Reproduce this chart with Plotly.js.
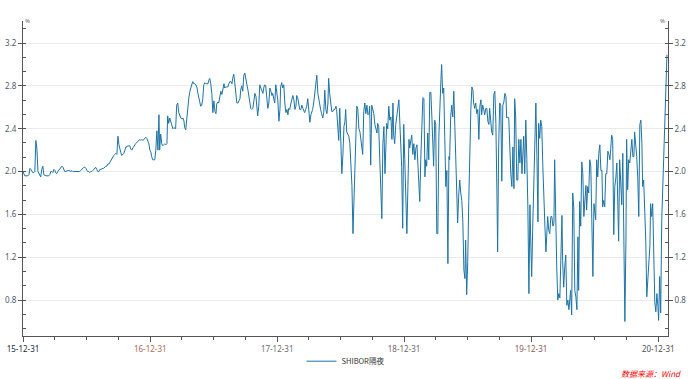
<!DOCTYPE html>
<html><head><meta charset="utf-8">
<script src="https://cdn.plot.ly/plotly-3.0.1.min.js"></script>
<style>html,body{margin:0;padding:0;background:#fff}#chart{width:692px;height:379px}</style>
</head><body><div id="chart"></div>
<script>
const seriesName = 'SHIBOR隔夜';
const firstDate = '2015-12-31';
const lastDate = '2021-01-25';

const rateA = [2.00,1.98,1.96,1.96,1.96,1.96,1.97,2.03,2.02,2.00,
1.99,1.99,2.00,2.29,2.21,2.00,1.98,1.96,1.95,2.02,
2.05,1.97,1.96,1.96,1.96,1.96,1.96,1.97,2.00,2.00,
1.99,2.02,2.01,1.99,1.98,2.00,2.01,2.02,2.04,2.05,
2.04,2.02,2.00,2.00,2.01,2.01,2.01,2.00,2.00,2.01,
2.00,2.00,2.00,2.00,2.00,2.00,2.00,2.00,2.01,2.02,
2.03,2.04,2.04,2.03,2.01,2.00,2.00,1.99,2.00,2.00,
2.01,2.02,2.03,2.04,2.02,2.00,2.00,2.02,2.02,2.03,
2.03,2.03,2.04,2.05,2.05,2.07,2.07,2.09,2.10,2.12,
2.13,2.15,2.16,2.17,2.16,2.33,2.25,2.21,2.18,2.15,
2.16,2.17,2.20,2.23,2.23,2.24,2.24,2.24,2.21,2.20,
2.22,2.23,2.25,2.26,2.27,2.28,2.29,2.30,2.29,2.30,
2.29,2.30,2.31,2.32,2.31,2.28,2.26];
const rateB = [2.20,2.18,2.14,2.11,2.11,2.11,2.20,2.38,2.20,2.53,
2.20,2.35,2.26,2.24,2.25,2.26,2.25,2.26,2.52,2.45,
2.50,2.47,2.42,2.40,2.41,2.40,2.40,2.62,2.64,2.55,
2.52,2.50,2.49,2.50,2.47,2.41,2.39,2.50,2.58,2.69,
2.75,2.79,2.82,2.84,2.82,2.82,2.81,2.79,2.73,2.67,
2.64,2.61,2.62,2.68,2.81,2.83,2.82,2.82,2.82,2.85,
2.87,2.82,2.73,2.55,2.66,2.56,2.54,2.63,2.65,2.64,
2.71,2.75,2.72,2.79,2.82,2.78,2.79,2.79,2.79,2.82,
2.84,2.84,2.82,2.87,2.91,2.83,2.73,2.64,2.64,2.66,
2.68,2.76,2.80,2.75,2.90,2.92,2.84,2.81,2.76,2.72,
2.66,2.59,2.58,2.59,2.66,2.73,2.70,2.59,2.52,2.61,
2.81,2.78,2.76,2.73,2.79,2.81,2.80,2.69,2.59,2.64,
2.78,2.75,2.71,2.73,2.68,2.64,2.81];
const rateC = [2.73,2.66,2.47,2.58,2.79,2.83,2.78,2.81,2.64,2.55,
2.58,2.53,2.59,2.58,2.63,2.69,2.71,2.67,2.58,2.61,
2.71,2.69,2.63,2.58,2.58,2.62,2.59,2.57,2.55,2.58,
2.61,2.68,2.55,2.46,2.53,2.56,2.58,2.64,2.73,2.78,
2.90,2.73,2.66,2.62,2.58,2.54,2.50,2.55,2.76,2.58,
2.54,2.64,2.87,2.73,2.62,2.56,2.56,2.58,2.58,2.61,
2.58,2.46,2.29,2.59,2.27,1.98,2.15,2.42,2.47,2.58,
2.37,2.35,2.33,2.26,2.03,1.87,1.42,1.64,2.11,2.42,
2.61,2.58,2.40,2.37,2.30,2.26,2.16,2.56,2.64,2.54,
2.62,2.53,2.54,2.61,2.06,2.62,2.58,2.54,2.44,2.38,
2.36,2.45,2.42,2.12,1.87,1.56,2.26,2.42,1.98,2.30,
2.45,2.40,2.61,2.48,2.51,2.30,2.64,2.34,2.26,2.44,
2.51,2.62,2.67,2.44,2.19,2.05,1.47];
const rateD = [2.44,2.11,1.58,1.42,1.86,2.30,2.22,2.28,2.34,2.16,
2.26,2.11,2.22,2.25,2.12,1.86,1.72,2.11,2.42,2.69,
2.68,1.95,2.11,2.05,2.36,2.11,2.74,2.74,2.50,2.20,
2.05,2.48,2.44,1.42,1.42,2.33,2.72,2.86,3.00,2.73,
2.78,2.42,1.86,2.01,1.14,2.14,2.11,2.51,2.62,2.51,
2.75,2.42,2.08,1.95,1.52,1.77,1.92,1.80,1.73,1.53,
1.08,1.00,1.36,0.85,1.16,1.72,2.23,2.58,2.79,2.76,
2.64,2.59,2.64,2.54,2.58,2.30,2.61,2.67,2.53,2.62,
2.58,2.53,2.59,2.59,2.47,2.44,2.59,2.47,2.37,2.34,
2.72,2.75,2.45,1.80,1.25,2.22,2.64,2.62,1.91,2.62,
2.65,2.73,2.70,2.50,2.51,2.50,2.17,1.97,1.86,2.23,
1.84,2.68,2.51,1.92,1.92,2.30,2.08,2.30,1.98,2.17,
2.33,1.98,2.48,2.11,1.67,0.86,1.69];
const rateE = [1.39,1.02,1.49,1.92,2.42,2.64,2.14,1.53,2.45,2.31,
2.48,2.42,2.05,1.63,1.49,1.25,1.42,1.58,1.45,1.42,
1.58,1.58,1.49,1.52,2.11,1.49,1.11,0.80,0.86,0.82,
1.17,1.59,1.17,0.92,1.11,1.22,0.75,0.80,0.71,0.88,
0.89,0.66,1.80,1.66,0.89,0.83,0.71,1.39,0.89,1.72,
1.49,2.09,1.98,1.58,1.73,1.87,1.64,1.86,1.80,2.11,
2.05,1.61,1.02,1.70,1.64,1.55,2.11,1.95,2.17,2.25,
2.01,2.01,1.67,1.73,1.67,1.98,1.98,2.19,2.16,2.11,
2.20,2.34,2.30,1.41,1.86,1.94,2.08,1.59,1.35,2.11,
1.80,1.69,2.17,1.35,0.60,1.35,2.30,1.83,2.11,2.08,
2.20,2.30,2.14,2.14,2.37,2.26,2.14,1.94,1.58,2.44,
2.48,2.26,1.86,1.92,1.64,1.36,0.83,0.99,1.17,1.31,
1.70,1.58,1.70,1.35,0.78,0.69,0.86,0.74,0.61,1.02,
0.68,1.55,1.86,2.36,2.61,2.87,3.09];

const tickDates = ['2015-12-31','2016-12-31','2017-12-31','2018-12-31','2019-12-31','2020-12-31'];
const tickLabels = ['15-12-31','16-12-31','17-12-31','18-12-31','19-12-31','20-12-31'];
const tickLabelColors = ['#1e2b3c','#b36a4e','#6d6d6d','#6f6868','#8a5f5a','#4f4f4f'];
const yTicks = [0.8,1.2,1.6,2.0,2.4,2.8,3.2];
const quarterEnds = ['-03-31','-06-30','-09-30'];
const minorYears = [2016,2017,2018,2019,2020];

const values = [].concat(rateA, rateB, rateC, rateD, rateE);
const t0 = Date.parse(firstDate + 'T00:00:00Z'), t1 = Date.parse(lastDate + 'T00:00:00Z');
const dates = values.map((v, i) => new Date(t0 + (t1 - t0) * i / (values.length - 1)).toISOString().slice(0, 10));
const minorDates = [];
minorYears.forEach(y => quarterEnds.forEach(q => minorDates.push(y + q)));

const yRange = [0.464, 3.406];
const xRange = ['2015-12-31', '2021-01-28'];
const tickFont = {family: 'Noto Sans, sans-serif', size: 8, color: '#4d5a6a'};
const lineCol = '#1c74a6';

const traces = [
  {x: dates, y: values, type: 'scatter', mode: 'lines', name: seriesName,
   line: {color: lineCol, width: 1}, hoverinfo: 'skip'},
  {x: dates, y: values, type: 'scatter', mode: 'lines', yaxis: 'y2', showlegend: false,
   line: {color: lineCol, width: 1}, opacity: 0, hoverinfo: 'skip'}
];

const yCommon = {
  range: yRange, tickmode: 'array', tickvals: yTicks, ticktext: yTicks.map(v => v.toFixed(1)),
  showline: true, linecolor: '#555', linewidth: 1, zeroline: false,
  ticks: 'outside', ticklen: 4, tickcolor: '#555', tickwidth: 1, tickfont: tickFont,
  minor: {tickmode: 'linear', tick0: 0.8, dtick: 0.4 / 3, ticks: 'inside', ticklen: 3, tickcolor: '#555', showgrid: false}
};

const layout = {
  width: 692, height: 379,
  margin: {l: 23, r: 24, t: 21, b: 43, autoexpand: false},
  paper_bgcolor: '#fff', plot_bgcolor: '#fff',
  showlegend: true,
  legend: {orientation: 'h', x: 0.5, xanchor: 'center', y: -0.08, yanchor: 'middle',
           bgcolor: 'rgba(0,0,0,0)',
           font: {family: 'Noto Sans CJK SC, sans-serif', size: 7.5, color: '#333'}, itemwidth: 30},
  xaxis: {
    type: 'date', range: xRange, showgrid: false, zeroline: false,
    showline: true, linecolor: '#555', linewidth: 1,
    ticks: 'outside', ticklen: 5, tickcolor: '#555', tickwidth: 1,
    tickmode: 'array', tickvals: tickDates,
    ticktext: tickLabels.map((t, i) => '<span style="color:' + tickLabelColors[i] + '">' + t + '</span>'),
    tickfont: tickFont,
    minor: {tickmode: 'array', tickvals: minorDates, ticks: 'outside', ticklen: 3, tickcolor: '#555', showgrid: false}
  },
  yaxis: Object.assign({}, yCommon, {showgrid: true, gridcolor: '#ebebeb', gridwidth: 1}),
  yaxis2: Object.assign({}, yCommon, {overlaying: 'y', side: 'right', showgrid: false}),
  annotations: [
    {xref: 'paper', yref: 'paper', x: 0, y: 1, xanchor: 'left', yanchor: 'middle', xshift: 0,
     text: '%', showarrow: false, font: {family: 'Noto Sans, sans-serif', size: 6, color: '#6b6a55'}},
    {xref: 'paper', yref: 'paper', x: 1, y: 1, xanchor: 'right', yanchor: 'middle', xshift: -1,
     text: '%', showarrow: false, font: {family: 'Noto Sans, sans-serif', size: 6, color: '#6b6a55'}},
    {xref: 'paper', yref: 'paper', x: 0.924, y: -0.1175, xanchor: 'left', yanchor: 'middle',
     text: '<i>数据来源：Wind</i>', showarrow: false,
     font: {family: 'Noto Sans CJK SC, sans-serif', size: 8, color: '#ff0000'}}
  ]
};

Plotly.newPlot('chart', traces, layout, {displayModeBar: false, staticPlot: true});
</script>
</body></html>
